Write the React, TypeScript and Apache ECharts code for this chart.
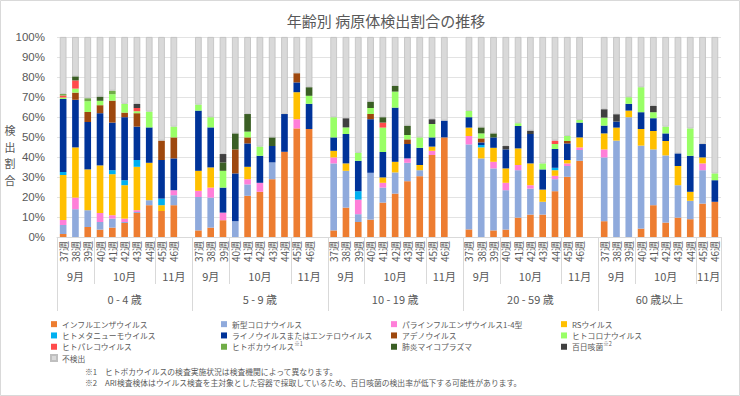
import React, { useEffect, useRef } from "react";
import * as echarts from "echarts";

const weeks = ["37週", "38週", "39週", "40週", "41週", "42週", "43週", "44週", "45週", "46週"];
const monthSpans = [
  { label: "9月", n: 3 },
  { label: "10月", n: 5 },
  { label: "11月", n: 2 },
];
const ageGroups = ["0 - 4 歳", "5 - 9 歳", "10 - 19 歳", "20 - 59 歳", "60 歳以上"];
const yTicks = [0, 10, 20, 30, 40, 50, 60, 70, 80, 90, 100];
const yAxisTitle = ["検", "出", "割", "合"];
const footnotes = [
  "※1　ヒトボカウイルスの検査実施状況は検査機関によって異なります。",
  "※2　ARI検査検体はウイルス検査を主対象とした容器で採取しているため、百日咳菌の検出率が低下する可能性があります。",
];

// values (%) per age group, weeks 37..46 each
const influenza = [1.5, 0, 5, 3.7, 4.7, 7, 12, 15.9, 13, 15.9, 3.3, 4.7, 8.4, 0, 20.6, 22.6, 28.9, 42.6, 54.3, 54, 3.3, 14.7, 7.5, 8.7, 17.2, 21.7, 27.9, 30.4, 41, 49.8, 3.8, 0, 3.3, 3.7, 9.7, 11.2, 11.2, 22.9, 30.1, 38.1, 7.9, 0, 0, 4.2, 15.9, 7.2, 9.7, 8.9, 16.7, 17.6];
const covid = [4.5, 13.9, 8.4, 3.8, 4.5, 0.5, 0.5, 2.5, 0, 5, 16.7, 15, 0, 7.9, 5.7, 0, 8.4, 0, 0, 0, 33.5, 18.4, 3.9, 23.4, 7.5, 10.6, 9.2, 3, 0, 0, 42.5, 39.3, 31, 19.7, 23.7, 13, 6.4, 6, 5.4, 5.4, 31.9, 48.2, 59.9, 41.5, 27.9, 33.6, 16.2, 9.2, 16.7, 0];
const parainfluenza = [2.5, 5.8, 0, 4.5, 1.7, 1.7, 0.9, 0, 0, 2.5, 3.1, 5, 3.8, 0, 2.6, 4.5, 0, 0, 4.6, 0, 3, 0, 7.3, 0, 2.4, 0, 2.2, 0, 2.1, 0, 4.2, 0, 3.3, 3.7, 2.6, 1.7, 0, 1.7, 1.3, 1.3, 4, 0, 0, 0, 0, 0, 0, 0, 3.4, 0];
const rsv = [22.5, 25.1, 20.4, 23.8, 20.5, 16.7, 21.7, 18.7, 2.9, 0, 10, 10.1, 0, 0, 6.2, 0, 0, 0, 13.5, 0, 3.3, 3.7, 0, 0, 2.7, 5.3, 0, 2.6, 2.1, 0, 4.2, 5.5, 7, 7.2, 8.3, 10.9, 6.1, 2.8, 1.7, 5, 8, 6.5, 3.3, 8.3, 9.2, 7.2, 9.6, 4.5, 3, 0];
const hmpv = [1.5, 0, 0, 0, 2, 2.5, 3.4, 0, 3.3, 0, 0, 0, 0, 0, 0, 0, 0, 0, 0, 0, 0, 0, 4.2, 0, 0, 0, 0, 0, 0, 0, 0, 1.2, 0, 0, 0, 0, 0, 1.2, 0, 0, 0, 0, 0, 0, 0, 0, 0, 0, 0, 0];
const rhino = [36.5, 23.8, 23.7, 26.1, 23.8, 31.5, 16.7, 17.7, 19.3, 15.9, 30.1, 20, 12.5, 23.9, 11.7, 13.5, 8.2, 18.9, 4.9, 12.6, 6.7, 14.7, 15.2, 26.8, 12.7, 27.1, 7.2, 8.6, 4.6, 8.4, 5.2, 1.3, 5.2, 9.5, 11.2, 14.7, 10.1, 9.4, 8.3, 7.4, 3.9, 3, 3.4, 8.4, 6.4, 3.8, 6.3, 18, 6.7, 10.8];
const adeno = [0, 3.6, 5, 4, 11, 2.3, 6.7, 0, 9.7, 10.5, 0, 0, 0, 12, 3, 0, 0, 0, 4.6, 0, 0, 0, 0, 2.6, 0, 0, 2.3, 0, 0, 0, 0, 2, 0, 0, 0, 0, 0, 0, 1.2, 0, 0, 0, 0, 0, 0, 0, 0, 0, 0, 0];
const hcov = [0.7, 2, 5.4, 2.2, 3.2, 4.4, 1, 7.9, 0, 5.4, 3, 5.1, 8.4, 0, 2.9, 4.6, 0, 0, 0, 4, 10.1, 3.3, 4, 3, 12.2, 8, 2.2, 5.2, 6.7, 0, 3.1, 2.5, 0, 0, 1.4, 0, 3, 2.5, 2.5, 1.3, 4, 0, 3.3, 12.5, 3, 3.4, 0, 13.7, 0, 3.4];
const parecho = [1, 4.1, 0, 0, 0, 0, 1.6, 0, 0, 0, 0, 0, 0, 0, 0, 0, 0, 0, 0, 0, 0, 0, 0, 0, 2.5, 0, 0, 0, 0, 0, 0, 0, 0, 0, 0, 0, 0, 1.7, 0, 0, 0, 0, 0, 0, 0, 0, 0, 0, 0, 0];
const boca = [0.8, 0, 1.5, 0, 1.8, 0, 0, 0, 0, 0, 0, 0, 0, 0, 0, 0, 0, 0, 0, 0, 0, 0, 0, 0, 0, 0, 0, 0, 0, 0, 0, 0, 0, 0, 0, 0, 0, 0, 0, 0, 0, 0, 0, 0, 0, 0, 0, 0, 0, 0];
const mycoplasma = [0, 2, 0, 2.1, 0, 0, 0, 0, 0, 0, 0, 0, 4.2, 8, 8.8, 0, 4.3, 0, 0, 4.3, 0, 0, 0, 3.2, 2.7, 2.9, 4.7, 0, 0, 0, 0, 3, 2, 0, 0, 0, 0, 0, 0, 0, 0, 0, 0, 0, 0, 0, 0, 0, 0, 0];
const pertussis = [0, 0, 0, 0, 0, 0, 2.1, 0, 0, 0, 0, 0, 4.2, 0, 0, 0, 0, 0, 0, 0, 0, 4.6, 0, 0, 0, 0, 0, 0, 2.4, 0, 0, 0, 0, 1.7, 0, 1.7, 0, 0, 0, 0, 4.2, 3.7, 0, 0, 3.2, 0, 0, 0, 0, 0];
const notDetected = [28.5, 19.7, 30.6, 29.8, 26.8, 33.4, 33.4, 37.3, 51.8, 44.8, 33.8, 40.1, 58.5, 48.2, 38.5, 54.8, 50.2, 38.5, 18.1, 25.1, 40.1, 40.6, 57.9, 32.3, 40.1, 24.4, 44.3, 50.2, 41.1, 41.8, 37, 45.2, 48.2, 54.5, 43.1, 46.8, 63.2, 51.8, 49.5, 41.5, 36.1, 38.6, 30.1, 25.1, 34.4, 44.8, 58.2, 45.7, 53.5, 68.2];

const seriesDefs = [
  { name: "インフルエンザウイルス", data: influenza, color: "#ED7D31" },
  { name: "新型コロナウイルス", data: covid, color: "#8FAADC" },
  { name: "パラインフルエンザウイルス1-4型", data: parainfluenza, color: "#FF7FD9" },
  { name: "RSウイルス", data: rsv, color: "#FFC000" },
  { name: "ヒトメタニューモウイルス", data: hmpv, color: "#00B0F0" },
  { name: "ライノウイルスまたはエンテロウイルス", data: rhino, color: "#003399" },
  { name: "アデノウイルス", data: adeno, color: "#9E480E" },
  { name: "ヒトコロナウイルス", data: hcov, color: "#99FF66" },
  { name: "ヒトパレコウイルス", data: parecho, color: "#FF4B4B" },
  { name: "ヒトボカウイルス※1", data: boca, color: "#70AD47" },
  { name: "肺炎マイコプラズマ", data: mycoplasma, color: "#3B5F25" },
  { name: "百日咳菌※2", data: pertussis, color: "#404040" },
  { name: "不検出", data: notDetected, color: "#D9D9D9" },
];

const FONT = "'Noto Sans CJK JP', 'Noto Sans', sans-serif";
const TXT = "#595959";

function expand(vals: number[]): (number | null)[] {
  const out: (number | null)[] = [];
  ageGroups.forEach((_, g) => {
    for (let k = 0; k < weeks.length; k++) out.push(vals[g * weeks.length + k]);
    if (g < ageGroups.length - 1) out.push(null);
  });
  return out;
}

const categories: string[] = [];
ageGroups.forEach((_, g) => {
  weeks.forEach((w) => categories.push(w));
  if (g < ageGroups.length - 1) categories.push("");
});

export default function App() {
  const ref = useRef<HTMLDivElement>(null);
  useEffect(() => {
    if (!ref.current) return;
    const chart = echarts.init(ref.current, null, { renderer: "svg" });
    const option: any = {
      animation: false,
      backgroundColor: "#ffffff",
      title: {
        text: "年齢別 病原体検出割合の推移",
        left: 381,
        top: 8,
        textAlign: "center",
        textStyle: { fontFamily: FONT, fontSize: 15, fontWeight: "normal", color: TXT },
      },
      grid: { left: 57, right: 19, top: 37, bottom: 159, containLabel: false },
      xAxis: {
        type: "category",
        data: categories,
        axisTick: { show: false },
        axisLine: { show: true, lineStyle: { color: "#D9D9D9" } },
        axisLabel: {
          interval: 0,
          rotate: 90,
          margin: 4,
          fontFamily: FONT,
          fontSize: 10,
          color: TXT,
        },
      },
      yAxis: {
        type: "value",
        min: 0,
        max: 100,
        interval: 10,
        axisLine: { show: false },
        axisTick: { show: false },
        axisLabel: {
          formatter: (v: number) => (yTicks.includes(v) ? v + "%" : ""),
          fontFamily: "'Liberation Sans', Arial, sans-serif",
          fontSize: 11.5,
          color: TXT,
          margin: 12,
        },
        splitLine: { lineStyle: { color: "#E3E3E3", width: 1 } },
      },
      legend: {
        left: 50,
        top: 318.5,
        padding: 0,
        width: 700,
        itemGap: 0,
        itemWidth: 6,
        itemHeight: 6,
        icon: "rect",
        formatter: (name: string) => name.replace(/(※\d)$/, "{sup|$1}"),
        textStyle: {
          fontFamily: FONT,
          fontSize: 7.8,
          color: TXT,
          width: 159,
          lineHeight: 11.3,
          rich: {
            sup: { fontSize: 5.5, fontFamily: FONT, color: TXT, verticalAlign: "top" },
          },
        },
        data: seriesDefs.map((s) => s.name),
      },
      series: seriesDefs.map((s) => ({
        name: s.name,
        type: "bar",
        stack: "total",
        barWidth: "54%",
        data: expand(s.data),
        itemStyle:
          s.name === "不検出"
            ? { color: s.color, borderColor: "#BFBFBF", borderWidth: 0.8 }
            : { color: s.color },
      })),
    };
    chart.setOption(option);

    const px = (i: number) => chart.convertToPixel({ xAxisIndex: 0 }, i) as number;
    const y0 = chart.convertToPixel({ yAxisIndex: 0 }, 0) as number;
    const half = (px(1) - px(0)) / 2;
    const lineStyle = { stroke: "#D9D9D9", lineWidth: 1 };
    const els: any[] = [];
    const vline = (x: number, y2: number) =>
      els.push({
        type: "line",
        shape: { x1: Math.round(x) + 0.5, y1: y0, x2: Math.round(x) + 0.5, y2 },
        style: lineStyle,
        silent: true,
      });
    const label = (text: string, x: number, y: number) =>
      els.push({
        type: "text",
        x,
        y,
        style: { text, fontFamily: FONT, fontSize: 11, fill: TXT, align: "center", verticalAlign: "middle" },
        silent: true,
      });

    let idx = 0;
    ageGroups.forEach((age, g) => {
      const groupLen = weeks.length + (g < ageGroups.length - 1 ? 1 : 0);
      const gs = idx;
      let ms = idx;
      monthSpans.forEach((m, mi) => {
        const len = mi === monthSpans.length - 1 ? groupLen - (ms - gs) : m.n;
        const a = ms;
        const b = ms + len - 1;
        vline(px(a) - half, mi === 0 ? 311 : 284);
        label(m.label, (px(a) + px(b)) / 2, 276);
        ms += len;
      });
      label(age, (px(gs) + px(gs + groupLen - 1)) / 2, 299);
      idx += groupLen;
    });
    vline(px(categories.length - 1) + half, 311);

    // y axis title (stacked vertical characters)
    yAxisTitle.forEach((ch, i) => {
      els.push({
        type: "text",
        x: 10,
        y: 130 + i * 16.7,
        style: {
          text: ch,
          fontFamily: FONT,
          fontSize: 11,
          fill: TXT,
          align: "center",
          verticalAlign: "middle",
        },
      });
    });
    // footnotes
    footnotes.forEach((t, i) => {
      els.push({
        type: "text",
        x: 85,
        y: 371.5 + i * 11.3,
        style: {
          text: t,
          fontFamily: FONT,
          fontSize: 7.8,
          fill: TXT,
          verticalAlign: "middle",
        },
      });
    });
    // chart border
    els.push({
      type: "rect",
      shape: { x: 0.5, y: 0.5, width: 739, height: 395 },
      style: { fill: "none", stroke: "#D9D9D9", lineWidth: 1 },
      silent: true,
    });
    chart.setOption({ graphic: els });

    return () => chart.dispose();
  }, []);
  return (
    <div
      ref={ref}
      style={{ position: "fixed", left: 0, top: 0, width: 740, height: 396, background: "#fff" }}
    />
  );
}
